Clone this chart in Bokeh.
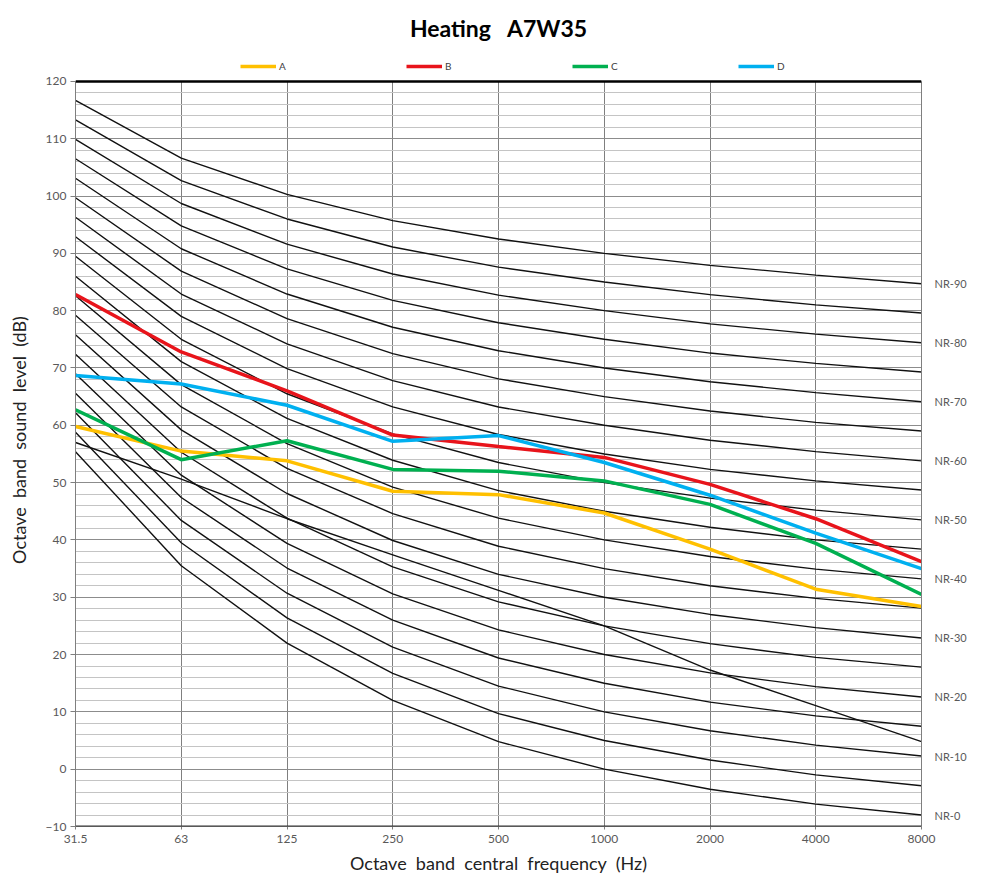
from bokeh.plotting import figure
from bokeh.models import (FixedTicker, SingleIntervalTicker, Legend, LegendItem,
                          LinearAxis, Span, Range1d)
from bokeh.embed import file_html
from bokeh.resources import INLINE

# ---------------- data ----------------
freqs = ["31.5", "63", "125", "250", "500", "1000", "2000", "4000", "8000"]

nr_levels = [0, 5, 10, 15, 20, 25, 30, 35, 40, 45, 50, 55, 60, 65, 70, 75, 80, 85, 90]
nr_curves = [
    [55.4, 35.5, 22.0, 12.0, 4.8, 0.0, -3.5, -6.1, -8.0],
    [58.8, 39.5, 26.4, 16.7, 9.7, 5.0, 1.6, -1.0, -2.9],
    [62.2, 43.4, 30.7, 21.3, 14.5, 10.0, 6.7, 4.2, 2.3],
    [65.6, 47.4, 35.1, 26.0, 19.4, 15.0, 11.7, 9.3, 7.5],
    [69.0, 51.3, 39.4, 30.6, 24.3, 20.0, 16.8, 14.4, 12.6],
    [72.4, 55.3, 43.8, 35.3, 29.2, 25.0, 21.9, 19.5, 17.8],
    [75.8, 59.2, 48.1, 39.9, 34.0, 30.0, 27.0, 24.7, 22.9],
    [79.2, 63.2, 52.5, 44.6, 38.9, 35.0, 32.0, 29.8, 28.1],
    [82.6, 67.1, 56.8, 49.2, 43.8, 40.0, 37.1, 34.9, 33.2],
    [86.0, 71.1, 61.2, 53.9, 48.6, 45.0, 42.2, 40.0, 38.4],
    [89.5, 75.0, 65.5, 58.5, 53.5, 50.0, 47.3, 45.2, 43.5],
    [92.9, 79.0, 69.9, 63.2, 58.4, 55.0, 52.3, 50.3, 48.7],
    [96.3, 82.9, 74.2, 67.8, 63.2, 60.0, 57.4, 55.4, 53.8],
    [99.7, 86.9, 78.6, 72.5, 68.1, 65.0, 62.5, 60.5, 59.0],
    [103.1, 90.8, 82.9, 77.1, 73.0, 70.0, 67.6, 65.7, 64.1],
    [106.5, 94.8, 87.3, 81.8, 77.9, 75.0, 72.6, 70.8, 69.3],
    [109.9, 98.7, 91.6, 86.4, 82.7, 80.0, 77.7, 75.9, 74.4],
    [113.3, 102.7, 96.0, 91.1, 87.6, 85.0, 82.8, 81.0, 79.6],
    [116.7, 106.6, 100.3, 95.7, 92.5, 90.0, 87.9, 86.2, 84.7],
]
extra_curve = [57.0, 50.6, 43.7, 37.4, 31.2, 25.0, 17.3, 11.1, 4.8]

series_names = ["A", "B", "C", "D"]
series_a = [59.8, 55.5, 53.8, 48.5, 47.9, 44.7, 38.4, 31.4, 28.4]
series_b = [82.8, 72.8, 66.0, 58.3, 56.3, 54.4, 49.7, 43.7, 36.2]
series_c = [62.7, 54.0, 57.3, 52.3, 52.0, 50.3, 46.2, 39.4, 30.5]
series_d = [68.7, 67.2, 63.5, 57.2, 58.2, 53.5, 47.8, 41.2, 35.0]
series_colors = ["#FFC000", "#E8141B", "#00B050", "#00B0F0"]

nr_label_levels = [0, 10, 20, 30, 40, 50, 60, 70, 80, 90]
y_min, y_max = -10, 120

# ---------------- figure ----------------
FONT = "Lato"
NB = "\u00a0"
xs = list(range(len(freqs)))

W, H = 969, 876
BL, BR, BT, BB = 75, 43, 50, 50
frame_h = H - BT - BB
px_per_db = (frame_h - 28) / (y_max - y_min)     # 28 px of room above the 120 line for the legend
y_top = y_max + 28 / px_per_db

p = figure(width=W, height=H, x_range=Range1d(0, len(freqs) - 1), y_range=Range1d(y_min, y_top),
           output_backend="svg", toolbar_location=None,
           min_border_left=BL, min_border_right=BR, min_border_top=BT, min_border_bottom=BB)

p.title.text = "Heating" + NB * 3 + "A7W35"
p.title.align = "center"
p.title.text_font = FONT
p.title.text_font_size = "23px"
p.title.text_font_style = "bold"
p.title.text_color = "#000000"
p.title.standoff = 23

p.background_fill_color = "white"
p.border_fill_color = "white"
p.outline_line_color = None

# axes
p.xaxis.ticker = FixedTicker(ticks=xs)
p.xaxis.major_label_overrides = {i: f for i, f in enumerate(freqs)}
p.xaxis.axis_label = (NB * 2).join(["Octave", "band", "central", "frequency", "(Hz)"])
p.yaxis.ticker = SingleIntervalTicker(interval=10, num_minor_ticks=5)
p.yaxis.bounds = (y_min, y_max)
p.yaxis.axis_label = (NB * 2).join(["Octave", "band", "sound", "level", "(dB)"])
for ax in (p.xaxis[0], p.yaxis[0]):
    ax.axis_label_text_font = FONT
    ax.axis_label_text_font_size = "18px"
    ax.axis_label_text_font_style = "normal"
    ax.axis_label_text_color = "#222222"
    ax.major_label_text_font = FONT
    ax.major_label_text_font_size = "12px"
    ax.major_label_text_color = "#595959"
    ax.axis_line_color = "#7f7f7f"
    ax.major_tick_line_color = "#7f7f7f"
    ax.major_tick_in = 0
    ax.minor_tick_line_color = None
p.xaxis.major_tick_out = 3
p.xaxis.major_label_standoff = 5
p.xaxis.axis_label_standoff = 6
p.yaxis.major_tick_out = 5
p.yaxis.major_label_standoff = 4
p.yaxis.axis_label_standoff = 13

# NR labels as a right-hand axis at each curve's 8000 Hz level (its line is the right border)
nr_label_y = [nr_curves[nr_levels.index(n)][-1] for n in nr_label_levels]
nr_axis = LinearAxis(ticker=FixedTicker(ticks=nr_label_y), bounds=(y_min, y_max),
                     major_label_overrides={y: "NR-%d" % n for y, n in zip(nr_label_y, nr_label_levels)},
                     axis_line_color="#7f7f7f", major_tick_line_color=None, minor_tick_line_color=None,
                     major_tick_in=0, major_tick_out=0, major_label_standoff=13,
                     major_label_text_font=FONT, major_label_text_font_size="11px",
                     major_label_text_color="#595959")
p.add_layout(nr_axis, "right")

# grid (kept inside the -10..120 box)
p.xgrid.grid_line_color = "#7f7f7f"
p.xgrid.grid_line_width = 1
p.xgrid.cross_bounds = (y_min, y_max)
p.ygrid.grid_line_color = "#8c8c8c"
p.ygrid.minor_grid_line_color = "#c4c4c4"

# thick top/bottom border lines
p.add_layout(Span(location=y_max, dimension="width", line_color="#000000", line_width=2.5))
p.add_layout(Span(location=y_min, dimension="width", line_color="#333333", line_width=2))

# NR curves
for vals in nr_curves:
    p.line(xs, vals, line_color="#111111", line_width=1.4)
p.line(xs, extra_curve, line_color="#111111", line_width=1.4)

# series
items = []
for name, vals, col in zip(series_names, [series_a, series_b, series_c, series_d], series_colors):
    r = p.line(xs, vals, line_color=col, line_width=3.5)
    items.append(LegendItem(label=name, renderers=[r]))

legend = Legend(items=items, orientation="horizontal", location=(165, frame_h - 22), spacing=107,
                glyph_width=36, glyph_height=10, label_standoff=3, padding=0, margin=0,
                border_line_color=None, background_fill_alpha=0,
                label_text_font=FONT, label_text_font_size="10px", label_text_color="#404040")
p.add_layout(legend, "center")

open("out.html", "w").write(file_html(p, INLINE))
